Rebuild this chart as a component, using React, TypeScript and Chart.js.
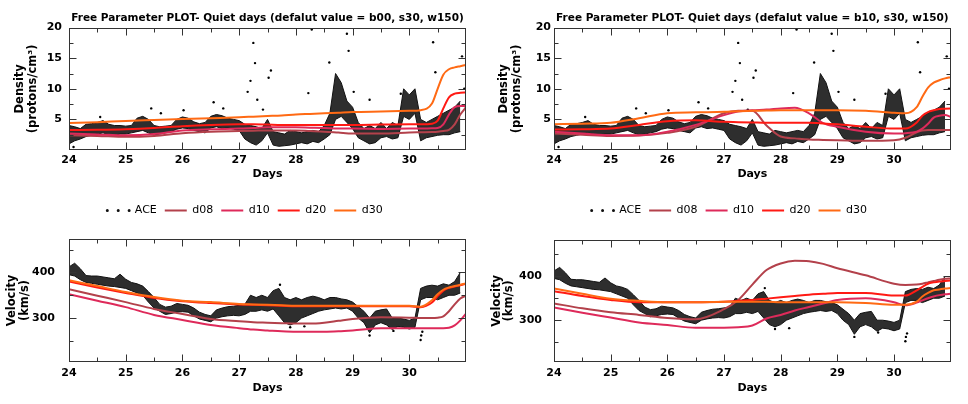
import React, { useEffect, useRef } from 'react';
import { Chart, registerables } from 'chart.js';

Chart.register(...registerables);

const FONT = 'DejaVu Sans';

// ---------- titles / labels ----------
const TITLE_B00 = 'Free Parameter PLOT- Quiet days (defalut value = b00, s30, w150)';
const TITLE_B10 = 'Free Parameter PLOT- Quiet days (defalut value = b10, s30, w150)';
const X_TICK_LABELS = ['24', '25', '26', '27', '28', '29', '30'];
const DENS_TICK_LABELS = ['5', '10', '15', '20'];
const VEL_TICK_LABELS = ['300', '400'];
const DENS_AXIS_TITLE = ['Density', '(protons/cm³)'];
const VEL_AXIS_TITLE = ['Velocity', '(km/s)'];
const X_AXIS_TITLE = 'Days';

const SERIES_NAMES = ['d08', 'd10', 'd20', 'd30'];
const SERIES_COLORS = ['#b3414b', '#de2a5a', '#ff1a14', '#ff6a14'];

// ---------- model curves, sampled on these days ----------
const MODEL_DAYS = [24, 24.5, 25, 25.5, 26, 26.5, 27, 27.25, 27.5, 27.75, 28, 28.25, 28.5, 28.75, 29, 29.5, 30, 30.2, 30.4, 30.5, 30.6, 30.7, 30.8, 30.9, 31];

// density, b00
const DENS_B00_D08 = [2.4, 2.3, 2.15, 2.3, 2.75, 3.0, 3.1, 3.15, 3.2, 3.2, 3.2, 3.1, 3.0, 2.85, 2.7, 2.7, 2.85, 2.9, 2.95, 3.0, 3.1, 3.3, 4.2, 5.8, 7.0];
const DENS_B00_D10 = [2.7, 2.55, 2.4, 2.6, 3.2, 3.4, 3.5, 3.6, 3.7, 3.7, 3.7, 3.65, 3.6, 3.5, 3.5, 3.45, 3.5, 3.5, 3.55, 3.6, 4.2, 5.8, 7.0, 7.2, 7.2];
const DENS_B00_D20 = [3.25, 3.3, 3.4, 3.6, 3.9, 4.1, 4.2, 4.2, 4.15, 4.1, 4.1, 4.1, 4.1, 4.1, 4.1, 4.15, 4.2, 4.2, 4.3, 4.8, 6.8, 8.6, 9.2, 9.35, 9.4];
const DENS_B00_D30 = [4.4, 4.55, 4.75, 4.9, 5.05, 5.2, 5.35, 5.45, 5.55, 5.65, 5.8, 5.9, 6.0, 6.1, 6.2, 6.3, 6.4, 6.5, 7.6, 10.0, 12.3, 13.2, 13.5, 13.7, 13.9];

// density, b10
const DENS_B10_D08 = [2.7, 2.5, 2.3, 2.35, 2.8, 3.8, 6.0, 6.4, 6.4, 4.0, 2.2, 1.9, 1.7, 1.65, 1.6, 1.5, 1.6, 2.0, 2.9, 3.2, 3.25, 3.25, 3.25, 3.25, 3.25];
const DENS_B10_D10 = [3.0, 2.7, 2.4, 2.4, 3.0, 4.1, 5.7, 6.3, 6.5, 6.6, 6.8, 6.9, 6.0, 4.4, 3.8, 3.0, 2.7, 2.75, 3.0, 3.5, 4.3, 5.3, 5.6, 5.7, 5.4];
const DENS_B10_D20 = [3.35, 3.4, 3.5, 4.1, 4.7, 4.85, 4.6, 4.55, 4.5, 4.45, 4.45, 4.45, 4.45, 4.35, 4.2, 3.8, 3.5, 3.5, 4.5, 5.6, 6.2, 6.5, 6.7, 6.75, 6.8];
const DENS_B10_D30 = [4.2, 4.3, 4.45, 5.2, 6.0, 6.15, 6.25, 6.35, 6.4, 6.45, 6.5, 6.5, 6.5, 6.5, 6.5, 6.4, 6.1, 6.0, 7.0, 8.7, 10.2, 11.0, 11.4, 11.7, 11.9];

// velocity, b00
const VEL_B00_D08 = [363, 349, 335, 320, 309, 298, 293, 291, 290, 289, 288, 288, 290, 294, 298, 302, 301, 300, 300, 301, 304, 315, 330, 343, 349];
const VEL_B00_D10 = [352, 338, 324, 307, 296, 285, 278, 275, 273, 271, 270, 270, 270, 271, 273, 278, 278, 278, 278, 278, 278, 279, 284, 295, 310];
const VEL_B00_D20 = [380, 367, 355, 344, 337, 333, 330, 329, 328, 327, 326, 326, 326, 326, 326, 326, 326, 324, 334, 348, 360, 366, 369, 372, 375];
const VEL_B00_D30 = [383, 370, 357, 346, 338, 335, 331, 330, 329, 328, 327, 327, 327, 327, 327, 327, 327, 325, 339, 352, 362, 367, 370, 373, 376];

// velocity, b10
const VEL_B10_D08 = [338, 327, 318, 312, 305, 302, 325, 346, 381, 414, 429, 435, 434, 428, 418, 402, 383, 380, 381, 383, 386, 389, 392, 394, 395];
const VEL_B10_D10 = [329, 317, 306, 295, 289, 283, 283, 284, 288, 304, 312, 322, 330, 338, 346, 350, 341, 334, 340, 345, 350, 354, 357, 359, 360];
const VEL_B10_D20 = [366, 355, 346, 341, 341, 341, 342, 344, 346, 349, 352, 355, 358, 360, 362, 362, 356, 356, 368, 376, 383, 386, 388, 389, 390];
const VEL_B10_D30 = [372, 360, 349, 344, 341, 341, 342, 342, 342, 342, 341, 341, 341, 341, 341, 339, 335, 335, 342, 354, 362, 368, 370, 372, 373];

// ---------- ACE observations: upper / lower edge of the scatter, every 0.1 day from day 24 ----------
const ACE_START = 24;
const ACE_STEP = 0.1;
const ACE_DENS_HI = [
  4.0, 3.8, 3.5, 4.2, 4.3, 4.5, 4.8, 4.2, 4.0, 4.0,
  3.9, 4.0, 5.2, 5.5, 5.0, 4.0, 3.8, 3.9, 4.0, 5.0,
  5.4, 5.2, 4.6, 4.3, 4.5, 5.5, 5.8, 5.6, 5.2, 5.0,
  4.8, 4.2, 4.0, 3.8, 3.5, 5.0, 3.0, 2.8, 2.6, 3.2,
  3.0, 2.8, 3.0, 3.2, 3.0, 4.0, 6.0, 12.5, 11.0, 8.0,
  7.0, 4.5, 3.5, 4.0, 3.5, 4.5, 3.5, 4.5, 4.0, 10.0,
  9.0, 10.0, 5.0, 4.5, 5.0, 5.5, 6.0, 6.5, 7.0, 8.0,
];
const ACE_DENS_LO = [
  1.0, 1.5, 1.8, 2.2, 2.4, 2.6, 2.8, 2.5, 2.4, 2.6,
  2.6, 2.8, 3.0, 3.2, 2.8, 2.5, 2.6, 2.8, 3.0, 3.4,
  3.6, 3.5, 3.2, 3.0, 2.8, 3.6, 3.8, 3.5, 3.6, 3.4,
  3.2, 1.8, 1.2, 0.8, 1.5, 2.8, 0.8, 0.6, 0.7, 0.8,
  1.0, 1.2, 1.0, 1.4, 1.2, 1.8, 2.5, 5.0, 5.5, 4.5,
  3.5, 2.0, 1.5, 1.0, 1.2, 2.0, 2.2, 1.8, 2.0, 5.5,
  5.0, 6.0, 1.5, 2.0, 2.2, 2.4, 2.5, 2.5, 2.8, 3.0,
];
const ACE_VEL_HI = [
  412, 420, 408, 393, 392, 392, 390, 388, 386, 396,
  385, 378, 375, 370, 358, 345, 330, 324, 326, 332,
  330, 328, 322, 313, 308, 305, 318, 322, 325, 326,
  328, 330, 350, 345, 350, 345, 360, 365, 345, 340,
  345, 340, 345, 348, 345, 340, 345, 345, 342, 340,
  335, 325, 315, 300, 315, 318, 320, 300, 300, 298,
  295, 300, 365, 370, 372, 370, 375, 372, 380, 400,
];
const ACE_VEL_LO = [
  395, 392, 384, 378, 376, 374, 372, 370, 369, 367,
  365, 360, 355, 350, 335, 322, 315, 308, 310, 313,
  314, 313, 305, 298, 295, 292, 300, 303, 305, 306,
  305, 308, 315, 315, 318, 315, 320, 305, 290, 285,
  290, 300, 305, 310, 315, 318, 320, 322, 320, 322,
  315, 300, 290, 268, 285, 290, 285, 275, 282, 280,
  276, 280, 340, 345, 345, 340, 345, 350, 350, 355,
];
// isolated ACE points
const DENS_SPIKE_DAYS = [24.08, 24.55, 25.45, 25.62, 26.02, 26.55, 26.72, 27.15, 27.2, 27.25, 27.28, 27.32, 27.42, 27.52, 27.56, 28.22, 28.28, 28.59, 28.9, 28.93, 29.02, 29.3, 29.85, 30.42, 30.46, 30.93, 30.97];
const DENS_SPIKES = [0.5, 5.4, 6.8, 6.0, 6.5, 7.8, 6.8, 9.5, 11.3, 17.5, 14.2, 8.2, 6.6, 11.8, 13.0, 9.3, 19.7, 14.3, 19.0, 16.2, 9.5, 8.2, 9.2, 17.6, 12.7, 15.3, 10.0];
const VEL_SPIKE_DAYS = [27.72, 27.9, 28.15, 29.3, 29.72, 30.2, 30.21, 30.23];
const VEL_SPIKES = [373, 280, 282, 262, 272, 252, 262, 270];

// ---------- layout of the four panels ----------
const PANELS = [
  {
    key: 'tl', left: 0, top: 0, w: 484, h: 195, title: TITLE_B00, legend: false,
    models: [DENS_B00_D08, DENS_B00_D10, DENS_B00_D20, DENS_B00_D30],
    aceHi: ACE_DENS_HI, aceLo: ACE_DENS_LO, spikeDays: DENS_SPIKE_DAYS, spikes: DENS_SPIKES,
    yTitle: DENS_AXIS_TITLE, yLabels: DENS_TICK_LABELS, yMin: 0, yMax: 20, yStep: 2.5, yMajor: 5,
    padTop: 0, padRight: 18, yWidth: 69, xHeight: 45, yTickPad: 7, yTitlePad: 13.7, xTickPad: 4, daysPad: 14.7,
    legendGap: 0, legendShift: 0,
  },
  {
    key: 'tr', left: 484, top: 0, w: 484, h: 195, title: TITLE_B10, legend: false,
    models: [DENS_B10_D08, DENS_B10_D10, DENS_B10_D20, DENS_B10_D30],
    aceHi: ACE_DENS_HI, aceLo: ACE_DENS_LO, spikeDays: DENS_SPIKE_DAYS, spikes: DENS_SPIKES,
    yTitle: DENS_AXIS_TITLE, yLabels: DENS_TICK_LABELS, yMin: 0, yMax: 20, yStep: 2.5, yMajor: 5,
    padTop: 0, padRight: 17.3, yWidth: 70, xHeight: 45, yTickPad: 3, yTitlePad: 13.7, xTickPad: 4, daysPad: 14.7,
    legendGap: 0, legendShift: 0,
  },
  {
    key: 'bl', left: 0, top: 195, w: 484, h: 209, title: null, legend: true,
    models: [VEL_B00_D08, VEL_B00_D10, VEL_B00_D20, VEL_B00_D30],
    aceHi: ACE_VEL_HI, aceLo: ACE_VEL_LO, spikeDays: VEL_SPIKE_DAYS, spikes: VEL_SPIKES,
    yTitle: VEL_AXIS_TITLE, yLabels: VEL_TICK_LABELS, yMin: 204, yMax: 473, yStep: 50, yMajor: 100,
    padTop: 2, padRight: 18, yWidth: 69, xHeight: 42, yTickPad: 14, yTitlePad: 5.7, xTickPad: 5, daysPad: 9.7,
    legendGap: 13, legendShift: 12,
  },
  {
    key: 'br', left: 484, top: 195, w: 484, h: 209, title: null, legend: true,
    models: [VEL_B10_D08, VEL_B10_D10, VEL_B10_D20, VEL_B10_D30],
    aceHi: ACE_VEL_HI, aceLo: ACE_VEL_LO, spikeDays: VEL_SPIKE_DAYS, spikes: VEL_SPIKES,
    yTitle: VEL_AXIS_TITLE, yLabels: VEL_TICK_LABELS, yMin: 205, yMax: 483, yStep: 50, yMajor: 100,
    padTop: 2, padRight: 17.3, yWidth: 70, xHeight: 42, yTickPad: 12, yTitlePad: 6.4, xTickPad: 5, daysPad: 9.7,
    legendGap: 13.7, legendShift: 12,
  },
];

// ---------- plugins ----------
const frameTicks = {
  id: 'frameTicks',
  afterDatasetsDraw(chart: any, _args: any, opts: any) {
    const { ctx, chartArea: a } = chart;
    const xs = chart.scales.x;
    const ys = chart.scales.y;
    const L = Math.round(a.left) + 0.5;
    const R = Math.round(a.right) - 0.5;
    const T = Math.round(a.top) + 0.5;
    const B = Math.round(a.bottom) - 0.5;
    ctx.save();
    ctx.strokeStyle = '#333';
    ctx.lineWidth = 1;
    ctx.setLineDash([]);
    ctx.beginPath();
    xs.ticks.forEach((t: any) => {
      const v = t.value;
      if (v <= xs.min || v >= xs.max) return;
      const px = Math.round(xs.getPixelForValue(v)) + 0.5;
      const len = Math.abs(v - Math.round(v)) < 1e-6 ? 7 : 4;
      ctx.moveTo(px, B); ctx.lineTo(px, B - len);
      ctx.moveTo(px, T); ctx.lineTo(px, T + len);
    });
    ys.ticks.forEach((t: any) => {
      const v = t.value;
      if (v <= ys.min || v >= ys.max) return;
      const r = v / opts.yMajor;
      const len = Math.abs(r - Math.round(r)) < 1e-6 ? 7 : 4;
      const py = Math.round(ys.getPixelForValue(v)) + 0.5;
      ctx.moveTo(L, py); ctx.lineTo(L + len, py);
      ctx.moveTo(R, py); ctx.lineTo(R - len, py);
    });
    ctx.stroke();
    ctx.strokeRect(L, T, R - L, B - T);
    ctx.restore();
  },
};

const boxTweaks = {
  id: 'boxTweaks',
  beforeInit(chart: any, _args: any, opts: any) {
    const lg = chart.legend;
    if (lg && opts.legendGap) {
      const orig = lg.fit;
      lg.fit = function () {
        orig.call(this);
        this.height += opts.legendGap;
      };
    }
  },
  afterLayout(chart: any, _args: any, opts: any) {
    const a = chart.chartArea;
    const tb = chart.titleBlock;
    if (tb) {
      const c = (a.left + a.right) / 2;
      tb.left = c - 240;
      tb.right = c + 240;
      tb.width = 480;
    }
    const lg = chart.legend;
    if (lg && opts.legendShift) {
      lg.left += opts.legendShift;
      lg.right += opts.legendShift;
    }
  },
};

function buildConfig(p: any) {
  const aceDay = (i: number) => Math.round((ACE_START + i * ACE_STEP) * 100) / 100;
  const loData = p.aceLo.map((v: number, i: number) => ({ x: aceDay(i), y: v }));
  const hiData = p.aceHi.map((v: number, i: number) => ({ x: aceDay(i), y: v }));
  const spikeData = p.spikeDays.map((d: number, i: number) => ({ x: d, y: p.spikes[i] }));
  const datasets: any[] = [
    {
      label: 'ACE low', data: loData, borderColor: '#111', backgroundColor: '#111',
      borderWidth: 1, pointRadius: 0, tension: 0, fill: false, order: 10,
    },
    {
      label: 'ACE', data: hiData, borderColor: '#111', backgroundColor: 'rgba(0,0,0,0.82)',
      borderWidth: 1, pointRadius: 0, tension: 0, fill: '-1', order: 10,
    },
    {
      label: 'ACE points', data: spikeData, showLine: false, pointRadius: 1.2,
      pointBackgroundColor: '#000', pointBorderWidth: 0, borderColor: '#000', order: 9,
    },
    ...p.models.map((arr: number[], k: number) => ({
      label: SERIES_NAMES[k],
      data: MODEL_DAYS.map((d, i) => ({ x: d, y: arr[i] })),
      borderColor: SERIES_COLORS[k], backgroundColor: SERIES_COLORS[k],
      borderWidth: 2, pointRadius: 0, cubicInterpolationMode: 'monotone', fill: false, order: 4 - k,
    })),
  ];

  const tickFont = { family: FONT, size: 11, weight: 'bold' };
  return {
    type: 'line',
    data: { datasets },
    plugins: [frameTicks, boxTweaks],
    options: {
      responsive: false,
      animation: false,
      devicePixelRatio: 1,
      color: '#000',
      layout: { padding: { top: p.padTop, left: 0, right: p.padRight, bottom: 0 } },
      plugins: {
        title: {
          display: !!p.title, text: p.title || '', color: '#000',
          font: { family: FONT, size: 10.5, weight: 'bold' },
          padding: { top: 12, bottom: 3 },
        },
        legend: {
          display: p.legend, position: 'top', align: 'center',
          labels: {
            usePointStyle: true, pointStyle: 'line', pointStyleWidth: 22, padding: 8, color: '#000',
            font: { family: FONT, size: 11 },
            generateLabels: (chart: any) => chart.data.datasets
              .map((ds: any, i: number) => {
                if (ds.label === 'ACE points' || ds.label === 'ACE low') return null;
                const isAce = ds.label === 'ACE';
                return {
                  text: ds.label, datasetIndex: i, hidden: false, pointStyle: 'line',
                  strokeStyle: ds.borderColor, fillStyle: ds.borderColor, fontColor: '#000',
                  lineWidth: isAce ? 3 : 2, lineDash: isAce ? [0.01, 10.9] : [],
                  lineCap: isAce ? 'round' : 'butt',
                };
              })
              .filter((it: any) => it),
          },
        },
        tooltip: { enabled: false },
        frameTicks: { yMajor: p.yMajor },
        boxTweaks: { legendGap: p.legendGap, legendShift: p.legendShift },
      },
      scales: {
        x: {
          type: 'linear', min: 24, max: 31,
          grid: { display: false, drawTicks: false }, border: { display: false },
          ticks: {
            stepSize: 0.5, autoSkip: false, maxRotation: 0, minRotation: 0, padding: p.xTickPad,
            color: '#000', font: tickFont,
            callback: (v: number) => (X_TICK_LABELS.includes(String(v)) ? String(v) : ''),
          },
          title: {
            display: true, text: X_AXIS_TITLE, color: '#000',
            font: { family: FONT, size: 11, weight: 'bold' },
            padding: { top: 0, bottom: p.daysPad },
          },
          afterFit: (s: any) => { s.height = p.xHeight; },
        },
        y: {
          type: 'linear', min: p.yMin, max: p.yMax,
          grid: { display: false, drawTicks: false }, border: { display: false },
          ticks: {
            stepSize: p.yStep, includeBounds: false, autoSkip: false, padding: p.yTickPad,
            color: '#000', font: tickFont,
            callback: (v: number) => (p.yLabels.includes(String(v)) ? String(v) : ''),
          },
          title: {
            display: true, text: p.yTitle, color: '#000',
            font: { family: FONT, size: 11.5, weight: 'bold', lineHeight: 1.1 },
            padding: { top: p.yTitlePad, bottom: 0 },
          },
          afterFit: (s: any) => { s.width = p.yWidth; },
        },
      },
    },
  };
}

function Panel({ spec }: { spec: any }) {
  const ref = useRef<HTMLCanvasElement | null>(null);
  useEffect(() => {
    if (!ref.current) return;
    const chart = new Chart(ref.current, buildConfig(spec) as any);
    return () => chart.destroy();
  }, [spec]);
  return (
    <canvas
      ref={ref}
      width={spec.w}
      height={spec.h}
      style={{ position: 'absolute', left: spec.left, top: spec.top, width: spec.w, height: spec.h }}
    />
  );
}

export default function App() {
  return (
    <div style={{ position: 'absolute', left: 0, top: 0, width: 968, height: 404, background: '#fff', overflow: 'hidden' }}>
      {PANELS.map((p) => (
        <Panel key={p.key} spec={p} />
      ))}
    </div>
  );
}
